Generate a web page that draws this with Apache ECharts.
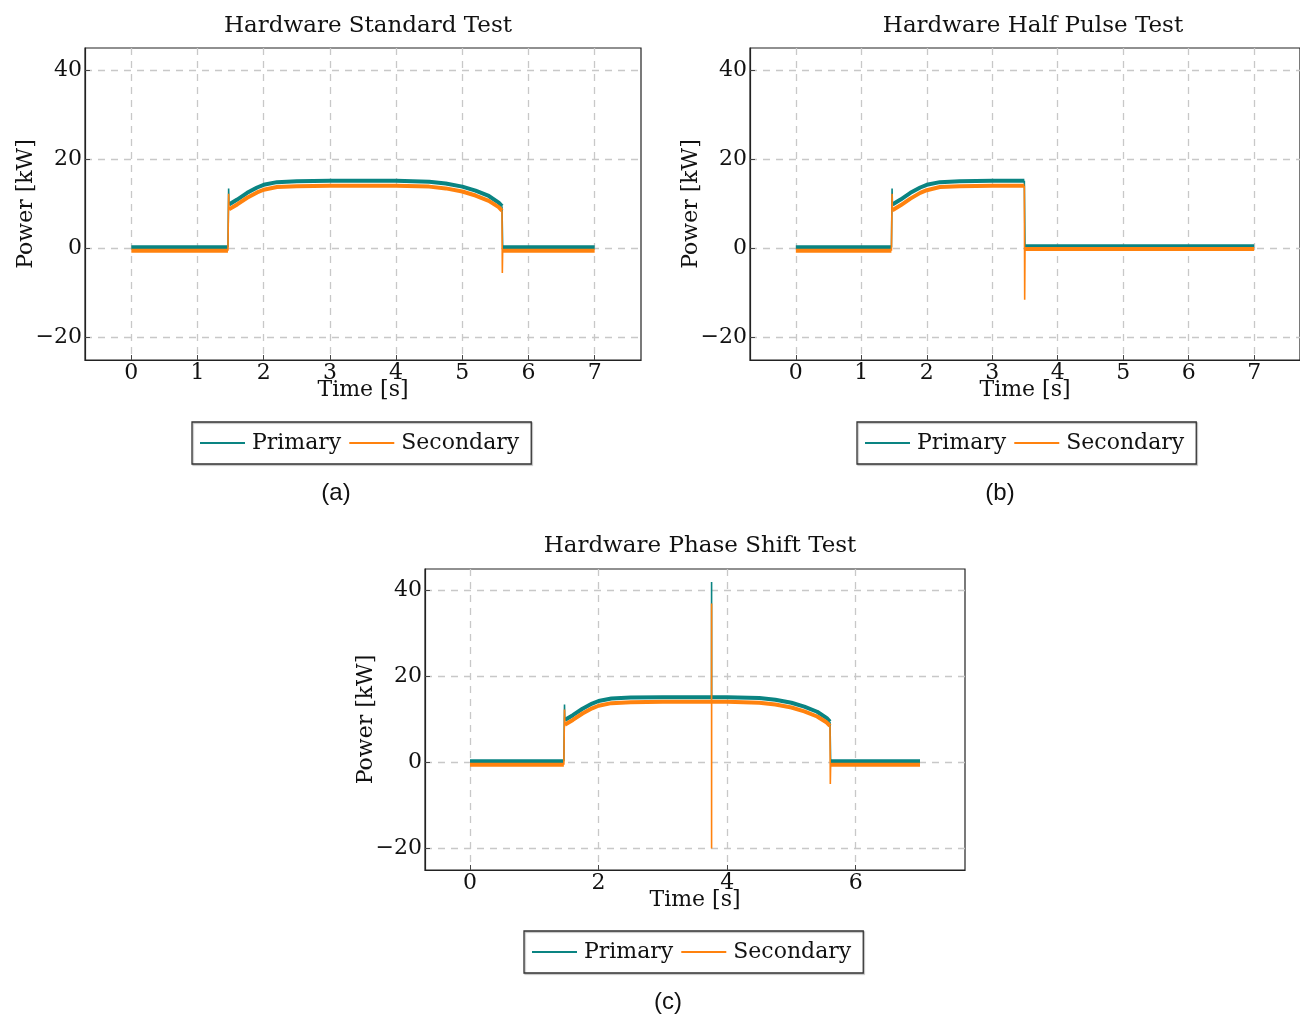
<!DOCTYPE html>
<html>
<head>
<meta charset="utf-8">
<script src="https://cdn.jsdelivr.net/npm/echarts@6/dist/echarts.min.js"></script>
<style>
  html, body { margin: 0; padding: 0; background: #fff; }
  #main { width: 1300px; height: 1014px; }
</style>
</head>
<body>
<div id="main"></div>
<script>
// ---- data (time in s, power in kW) ----
// "level" arrays are the noisy (thick) parts, "edge" arrays the thin switching spikes.
// a null value breaks the line.
const titles = ['Hardware Standard Test', 'Hardware Half Pulse Test', 'Hardware Phase Shift Test']
const captions = ['(a)', '(b)', '(c)']
const yTicks = [-20, 0, 20, 40]
const xTicksAB = [0, 1, 2, 3, 4, 5, 6, 7]
const xTicksC = [0, 2, 4, 6]

// (a) standard test
const stdPrimT = [0, 1.46, 1.47, 1.475, 1.6, 1.75, 1.9, 2.0, 2.2, 2.5, 3.0, 3.5, 4.0, 4.5, 4.75, 5.0, 5.2, 5.4, 5.55, 5.6, 5.6, 5.61, 7]
const stdPrimV = [0.3, 0.3, null, 9.9, 11.0, 12.5, 13.7, 14.3, 14.9, 15.1, 15.2, 15.2, 15.2, 15.0, 14.6, 13.9, 13.0, 11.8, 10.3, 9.5, null, 0.3, 0.3]
const stdPrimEdgeT = [1.46, 1.47, 1.475, 1.5, 5.6, 5.61]
const stdPrimEdgeV = [0.3, 13.5, 9.9, null, 9.5, 0.3]
const stdSecT = [0, 1.46, 1.47, 1.475, 1.6, 1.75, 1.9, 2.0, 2.2, 2.5, 3.0, 3.5, 4.0, 4.5, 4.75, 5.0, 5.2, 5.4, 5.55, 5.6, 5.6, 5.61, 7]
const stdSecV = [-0.5, -0.5, null, 8.8, 9.9, 11.4, 12.6, 13.2, 13.8, 14.0, 14.1, 14.1, 14.1, 13.9, 13.5, 12.8, 11.9, 10.7, 9.3, 8.5, null, -0.5, -0.5]
const stdSecEdgeT = [1.46, 1.47, 1.475, 1.5, 5.6, 5.605, 5.61]
const stdSecEdgeV = [-0.5, 12.3, 8.8, null, 8.5, -5.5, -0.5]

// (b) half pulse test
const halfPrimT = [0, 1.46, 1.47, 1.475, 1.6, 1.75, 1.9, 2.0, 2.2, 2.5, 3.0, 3.49, 3.49, 3.5, 7]
const halfPrimV = [0.3, 0.3, null, 9.9, 11.0, 12.5, 13.7, 14.3, 14.9, 15.1, 15.2, 15.2, null, 0.5, 0.5]
const halfPrimEdgeT = [1.46, 1.47, 1.475, 1.5, 3.49, 3.5]
const halfPrimEdgeV = [0.3, 13.5, 9.9, null, 15.2, 0.5]
const halfSecT = [0, 1.46, 1.47, 1.475, 1.6, 1.75, 1.9, 2.0, 2.2, 2.5, 3.0, 3.49, 3.49, 3.5, 7]
const halfSecV = [-0.5, -0.5, null, 8.6, 9.7, 11.2, 12.5, 13.1, 13.8, 14.0, 14.1, 14.1, null, -0.1, -0.1]
const halfSecEdgeT = [1.46, 1.47, 1.475, 1.5, 3.49, 3.495, 3.5]
const halfSecEdgeV = [-0.5, 12.3, 8.6, null, 14.1, -11.5, -0.1]

// (c) phase shift test
const phasePrimT = [0, 1.46, 1.47, 1.475, 1.6, 1.75, 1.9, 2.0, 2.2, 2.5, 3.0, 3.5, 4.0, 4.5, 4.75, 5.0, 5.2, 5.4, 5.55, 5.6, 5.6, 5.61, 7]
const phasePrimV = [0.3, 0.3, null, 9.9, 11.0, 12.5, 13.7, 14.3, 14.9, 15.1, 15.2, 15.2, 15.2, 15.0, 14.6, 13.9, 13.0, 11.8, 10.3, 9.5, null, 0.3, 0.3]
const phasePrimEdgeT = [1.46, 1.47, 1.475, 1.5, 3.757, 3.758, 3.759, 3.8, 5.6, 5.61]
const phasePrimEdgeV = [0.3, 13.5, 9.9, null, 15.2, 42.0, 15.2, null, 9.5, 0.3]
const phaseSecT = [0, 1.46, 1.47, 1.475, 1.6, 1.75, 1.9, 2.0, 2.2, 2.5, 3.0, 3.5, 4.0, 4.5, 4.75, 5.0, 5.2, 5.4, 5.55, 5.6, 5.6, 5.61, 7]
const phaseSecV = [-0.5, -0.5, null, 8.8, 9.9, 11.4, 12.6, 13.2, 13.8, 14.0, 14.1, 14.1, 14.1, 13.9, 13.5, 12.8, 11.9, 10.7, 9.3, 8.5, null, -0.5, -0.5]
const phaseSecEdgeT = [1.46, 1.47, 1.475, 1.5, 3.757, 3.758, 3.758, 3.759, 3.8, 5.6, 5.605, 5.61]
const phaseSecEdgeV = [-0.5, 12.3, 8.8, null, 14.1, 37.0, -20.0, 14.1, null, 8.5, -5.0, -0.5]

const teal = '#0a8482'
const orange = '#ff820e'
const serif = 'DejaVu Serif'

function pairs(t, v) {
  return t.map((x, i) => (v[i] === null ? [x, '-'] : [x, v[i]]))
}

const panels = [
  {grid: {left: 85, top: 48, width: 556, height: 312}, xTicks: xTicksAB,
    prim: pairs(stdPrimT, stdPrimV), primEdge: pairs(stdPrimEdgeT, stdPrimEdgeV),
    sec: pairs(stdSecT, stdSecV), secEdge: pairs(stdSecEdgeT, stdSecEdgeV)},
  {grid: {left: 750, top: 48, width: 556, height: 312}, xTicks: xTicksAB,
    prim: pairs(halfPrimT, halfPrimV), primEdge: pairs(halfPrimEdgeT, halfPrimEdgeV),
    sec: pairs(halfSecT, halfSecV), secEdge: pairs(halfSecEdgeT, halfSecEdgeV)},
  {grid: {left: 425, top: 569, width: 540, height: 301}, xTicks: xTicksC,
    prim: pairs(phasePrimT, phasePrimV), primEdge: pairs(phasePrimEdgeT, phasePrimEdgeV),
    sec: pairs(phaseSecT, phaseSecV), secEdge: pairs(phaseSecEdgeT, phaseSecEdgeV)},
]

const minus = v => (v < 0 ? '\u2212' + Math.abs(v) : '' + v)

function line(name, i, data, color, width, z) {
  return {
    name: name, type: 'line', xAxisIndex: i, yAxisIndex: i, data: data,
    showSymbol: false, connectNulls: false, color: color,
    lineStyle: {width: width, color: color}, z: z
  }
}

const grids = [], xAxes = [], yAxes = [], series = []
panels.forEach((p, i) => {
  grids.push(Object.assign({show: true, borderColor: '#222', borderWidth: 1.2, backgroundColor: '#fff'}, p.grid))
  xAxes.push({
    type: 'value', gridIndex: i, min: -0.7, max: 7.7,
    name: 'Time [s]', nameLocation: 'middle', nameGap: 19, nameMoveOverlap: false,
    nameTextStyle: {fontFamily: serif, fontSize: 22, color: '#111'},
    axisLine: {show: true, onZero: false, lineStyle: {color: '#222', width: 1.2}},
    axisTick: {show: true, inside: true, length: 5, customValues: p.xTicks, lineStyle: {color: '#444'}},
    axisLabel: {customValues: p.xTicks, margin: 2, fontFamily: serif, fontSize: 22, color: '#111'},
    splitLine: {show: true, lineStyle: {color: '#c8c8c8', width: 1.3, type: [7, 6]}}
  })
  yAxes.push({
    type: 'value', gridIndex: i, min: -25, max: 45,
    name: 'Power [kW]', nameLocation: 'middle', nameGap: 48, nameRotate: 90, nameMoveOverlap: false,
    nameTextStyle: {fontFamily: serif, fontSize: 22, color: '#111'},
    axisLine: {show: true, onZero: false, lineStyle: {color: '#222', width: 1.2}},
    axisTick: {show: true, inside: true, length: 5, customValues: yTicks, lineStyle: {color: '#444'}},
    axisLabel: {customValues: yTicks, margin: 3, formatter: minus, fontFamily: serif, fontSize: 22, color: '#111'},
    splitLine: {show: true, lineStyle: {color: '#c8c8c8', width: 1.3, type: [7, 6]}}
  })
  series.push(line('Primary', i, p.prim, teal, 4, 3))
  series.push(line('Primary', i, p.primEdge, teal, 1.6, 3))
  series.push(line('Secondary', i, p.sec, orange, 4, 4))
  series.push(line('Secondary', i, p.secEdge, orange, 1.6, 4))
})

const titleCenters = [[363, 10], [1028, 10], [695, 530]]
const captionCenters = [[331, 476], [995, 476], [663, 985]]
const title = []
titles.forEach((t, i) => {
  title.push({text: t, left: titleCenters[i][0], top: titleCenters[i][1], textAlign: 'center',
    textStyle: {fontFamily: serif, fontSize: 23, fontWeight: 'normal', color: '#111'}})
})
captions.forEach((t, i) => {
  title.push({text: t, left: captionCenters[i][0], top: captionCenters[i][1], textAlign: 'center',
    textStyle: {fontFamily: 'Liberation Sans', fontSize: 24, fontWeight: 'normal', color: '#111'}})
})

const legendPos = [[192, 422], [857, 422], [524, 931]]
const legend = legendPos.map(pos => ({
  left: pos[0], top: pos[1],
  data: ['Primary', 'Secondary'],
  icon: 'rect', itemWidth: 45, itemHeight: 2, itemGap: 8,
  padding: [10, 12, 10, 8],
  borderColor: '#333', borderWidth: 1.3,
  shadowColor: 'rgba(0,0,0,0.3)', shadowOffsetX: 1, shadowOffsetY: 1, shadowBlur: 1,
  textStyle: {fontFamily: serif, fontSize: 22, color: '#111', padding: [0, 0, 0, 2]},
  selectedMode: false
}))

const chart = echarts.init(document.getElementById('main'))
chart.setOption({
  animation: false,
  title: title,
  legend: legend,
  grid: grids,
  xAxis: xAxes,
  yAxis: yAxes,
  series: series
})
</script>
</body>
</html>
